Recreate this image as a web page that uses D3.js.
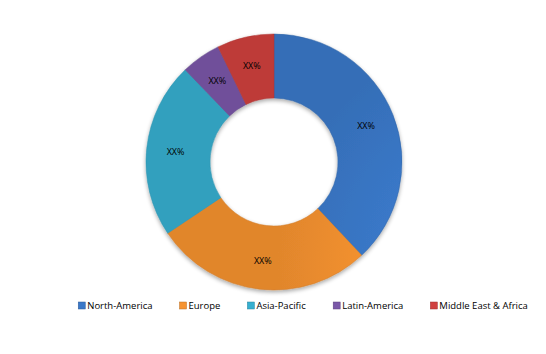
<!DOCTYPE html>
<html>
<head>
<meta charset="utf-8">
<script src="https://cdn.jsdelivr.net/npm/d3@7"></script>
<style>
  body { margin: 0; background: #fff; }
  svg { display: block; }
</style>
</head>
<body>
<svg class="svg" width="546" height="354"></svg>
<script>
const regions = ['North-America', 'Europe', 'Asia-Pacific', 'Latin-America', 'Middle East & Africa'];
const shares = [38, 27.6, 22.2, 5, 7.2];
const labels = ['XX%', 'XX%', 'XX%', 'XX%', 'XX%'];
const colors = ['#3a78c8', '#f69330', '#36afd0', '#7a58a8', '#d0403e'];

const width = 546;
const height = 354;
const cx = 274, cy = 162;
const outerR = 128, innerR = 64;

const svg = d3.select('.svg');
const defs = svg.append('defs');

const shadow = defs.append('filter')
    .attr('id', 'shadow')
    .attr('x', '-20%').attr('y', '-20%')
    .attr('width', '140%').attr('height', '140%');
shadow.append('feGaussianBlur').attr('in', 'SourceAlpha').attr('stdDeviation', 2);
shadow.append('feOffset').attr('dx', 0).attr('dy', 2).attr('result', 'blur');
shadow.append('feComponentTransfer').append('feFuncA').attr('type', 'linear').attr('slope', 0.35);
const merge = shadow.append('feMerge');
merge.append('feMergeNode');
merge.append('feMergeNode').attr('in', 'SourceGraphic');

colors.forEach((c, i) => {
    const g = defs.append('radialGradient')
        .attr('id', 'grad' + i)
        .attr('gradientUnits', 'userSpaceOnUse')
        .attr('cx', cx - 40).attr('cy', cy - 60).attr('r', 230);
    g.append('stop').attr('offset', '0%').attr('stop-color', d3.color(c).brighter(0.3));
    g.append('stop').attr('offset', '55%').attr('stop-color', c);
    g.append('stop').attr('offset', '100%').attr('stop-color', d3.color(c).darker(0.25));
});

const pie = d3.pie().sort(null).value(d => d);
const arcs = pie(shares);

const arc = d3.arc().innerRadius(innerR).outerRadius(outerR);
const labelArc = d3.arc().innerRadius((innerR + outerR) / 2 + 3).outerRadius((innerR + outerR) / 2 + 3);

const donut = svg.append('g')
    .attr('transform', `translate(${cx}, ${cy})`);

donut.append('g')
    .attr('filter', 'url(#shadow)')
    .selectAll('path')
    .data(arcs).enter()
    .append('path')
    .attr('d', arc)
    .attr('fill', (d, i) => `url(#grad${i})`)
    .attr('stroke', (d, i) => d3.color(colors[i]).darker(0.5))
    .attr('stroke-width', 0.5);

donut.selectAll('text')
    .data(arcs).enter()
    .append('text')
    .attr('transform', d => `translate(${labelArc.centroid(d)})`)
    .attr('text-anchor', 'middle')
    .attr('dy', '0.35em')
    .style('font-family', 'Open Sans, sans-serif')
    .style('font-size', '9px')
    .style('fill', '#000')
    .text((d, i) => labels[i]);

/* LEGEND */
const legend = svg.append('g').attr('id', 'legend');
const items = legend.selectAll('g')
    .data(regions).enter()
    .append('g');

items.append('rect')
    .attr('y', 302)
    .attr('width', 7)
    .attr('height', 7)
    .attr('fill', (d, i) => colors[i])
    .attr('stroke', (d, i) => d3.color(colors[i]).darker(0.8))
    .attr('stroke-width', 0.5);

items.append('text')
    .attr('x', 9)
    .attr('y', 309)
    .style('font-family', 'Open Sans, sans-serif')
    .style('font-size', '9.5px')
    .style('fill', '#000')
    .text(d => d);

let x = 0;
const gap = 27;
items.each(function () {
    const w = this.getBBox().width;
    d3.select(this).attr('data-x', x);
    x += w + gap;
});
const total = x - gap;
const start = 303 - total / 2;
items.attr('transform', function () {
    return `translate(${start + (+this.getAttribute('data-x'))}, 0)`;
});
</script>
</body>
</html>
